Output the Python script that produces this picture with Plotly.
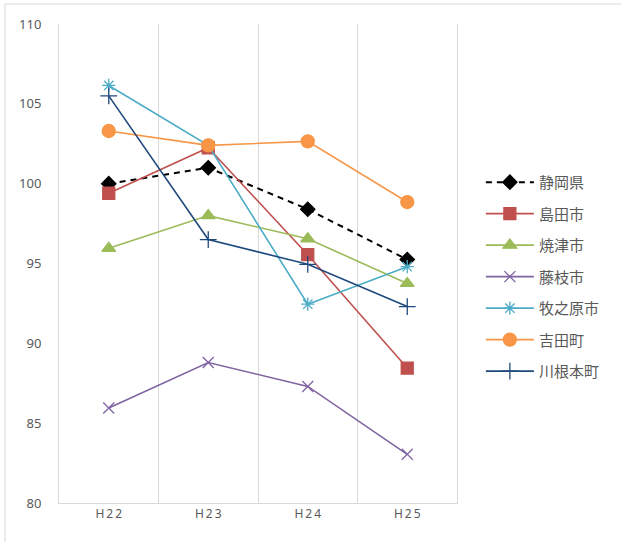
import plotly.graph_objects as go

categories = ["H22", "H23", "H24", "H25"]
tick_labels = ["H\u20092\u20092", "H\u20092\u20093", "H\u20092\u20094", "H\u20092\u20095"]

shizuoka = [100.0, 101.0, 98.4, 95.25]
shimada = [99.4, 102.25, 95.55, 88.45]
yaizu = [95.95, 98.0, 96.55, 93.75]
fujieda = [85.95, 88.8, 87.3, 83.05]
makinohara = [106.15, 102.4, 92.45, 94.8]
yoshida = [103.3, 102.4, 102.65, 98.85]
kawanehon = [105.5, 96.5, 94.95, 92.3]

series = [
    ("静岡県", shizuoka, "#000000", "diamond", 11, "dash"),
    ("島田市", shimada, "#C0504D", "square", 12, "solid"),
    ("焼津市", yaizu, "#9BBB59", "triangle-up", 12, "solid"),
    ("藤枝市", fujieda, "#8064A2", "x-thin-open", 11, "solid"),
    ("牧之原市", makinohara, "#4BACC6", "asterisk-open", 11, "solid"),
    ("吉田町", yoshida, "#F79646", "circle", 13, "solid"),
    ("川根本町", kawanehon, "#1F497D", "cross-thin-open", 12, "solid"),
]

fig = go.Figure()
for i, (name, vals, color, sym, size, dash) in enumerate(series):
    fig.add_trace(go.Scatter(
        x=categories, y=vals, name=name, mode="lines+markers",
        line=dict(color=color, width=2 if dash == "dash" else 1.6,
                  dash="6px,5px" if dash == "dash" else None),
        marker=dict(symbol=sym, size=size, color=color, line=dict(color=color, width=1.3)),
        legendgroup=f"g{i}",
    ))

fig.update_layout(
    width=621, height=542,
    margin=dict(l=59, r=164, t=24, b=39),
    paper_bgcolor="white", plot_bgcolor="white",
    font=dict(family="Noto Sans CJK JP, sans-serif", color="#595959"),
    showlegend=True,
    legend=dict(
        x=1.06, xanchor="left", y=0.472, yanchor="middle",
        font=dict(size=15, color="#595959"),
        tracegroupgap=9, itemwidth=48,
        bgcolor="rgba(0,0,0,0)",
    ),
    xaxis=dict(
        type="category", tickson="boundaries",
        tickvals=categories, ticktext=tick_labels,
        showgrid=True, gridcolor="#D9D9D9", gridwidth=1,
        showline=True, linecolor="#D9D9D9", linewidth=1,
        ticks="", tickfont=dict(size=12, color="#595959", family="Noto Sans, sans-serif"),
        range=[-0.5, 3.5], zeroline=False,
    ),
    yaxis=dict(
        range=[80, 110], dtick=5, showgrid=False, zeroline=False,
        showline=True, mirror=True, linecolor="#D9D9D9", linewidth=1, ticks="",
        tickfont=dict(size=13, color="#595959", family="Noto Sans, sans-serif"),
        ticklabelstandoff=14,
    ),
    shapes=[dict(
        type="rect", xref="paper", yref="paper",
        x0=(5 - 59) / 398, x1=1.6, y0=-0.2, y1=(503 - 4) / 479,
        line=dict(color="#D9D9D9", width=1), fillcolor="rgba(0,0,0,0)", layer="below",
    )],
)

fig.write_html("out.html", config={"displayModeBar": False},
               post_script="document.body.style.margin='0';document.body.style.overflow='hidden';")
